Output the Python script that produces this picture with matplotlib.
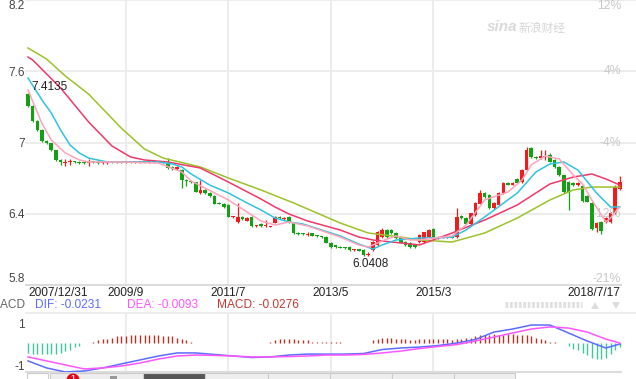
import matplotlib
matplotlib.use("Agg")
import matplotlib.pyplot as plt
from matplotlib.patches import Rectangle, Circle, Polygon
import numpy as np

plt.rcParams["font.family"] = ["Liberation Sans", "Noto Sans CJK SC", "DejaVu Sans"]

# monthly candles 2007/12 .. 2018/7 (index 0..127)
opens = [7.410, 7.307, 7.181, 7.105, 7.013, 6.996, 6.937, 6.853, 6.830, 6.834,
         6.840, 6.834, 6.832, 6.826, 6.838, 6.834, 6.828, 6.830, 6.836, 6.834,
         6.836, 6.834, 6.836, 6.834, 6.834, 6.836, 6.834, 6.836, 6.834, 6.832,
         6.827, 6.794, 6.777, 6.768, 6.684, 6.676, 6.667, 6.575, 6.600, 6.575,
         6.549, 6.491, 6.482, 6.474, 6.373, 6.331, 6.373, 6.339, 6.373, 6.295,
         6.314, 6.297, 6.288, 6.322, 6.373, 6.356, 6.373, 6.322, 6.238, 6.238,
         6.221, 6.238, 6.213, 6.210, 6.204, 6.154, 6.137, 6.120, 6.112, 6.120,
         6.095, 6.098, 6.095, 6.053, 6.095, 6.137, 6.204, 6.263, 6.263, 6.238,
         6.196, 6.162, 6.154, 6.137, 6.162, 6.162, 6.204, 6.272, 6.196, 6.196,
         6.200, 6.204, 6.204, 6.381, 6.364, 6.314, 6.389, 6.482, 6.575, 6.558,
         6.448, 6.474, 6.575, 6.659, 6.645, 6.693, 6.667, 6.768, 6.954, 6.878,
         6.869, 6.878, 6.895, 6.853, 6.794, 6.726, 6.667, 6.659, 6.642, 6.634,
         6.550, 6.491, 6.280, 6.331, 6.331, 6.331, 6.406, 6.608]
closes = [7.307, 7.181, 7.105, 7.013, 6.996, 6.937, 6.853, 6.836, 6.840, 6.842,
          6.834, 6.830, 6.828, 6.838, 6.832, 6.828, 6.834, 6.836, 6.834, 6.836,
          6.834, 6.836, 6.834, 6.834, 6.836, 6.834, 6.836, 6.834, 6.832, 6.830,
          6.785, 6.777, 6.790, 6.684, 6.676, 6.667, 6.583, 6.600, 6.575, 6.549,
          6.482, 6.482, 6.457, 6.373, 6.381, 6.373, 6.356, 6.364, 6.297, 6.300,
          6.297, 6.300, 6.297, 6.373, 6.364, 6.364, 6.322, 6.238, 6.232, 6.229,
          6.229, 6.213, 6.210, 6.204, 6.154, 6.120, 6.120, 6.112, 6.108, 6.095,
          6.098, 6.090, 6.053, 6.065, 6.162, 6.246, 6.263, 6.204, 6.238, 6.196,
          6.154, 6.137, 6.120, 6.120, 6.221, 6.246, 6.263, 6.204, 6.204, 6.204,
          6.204, 6.196, 6.373, 6.364, 6.314, 6.406, 6.491, 6.575, 6.541, 6.448,
          6.491, 6.575, 6.659, 6.642, 6.659, 6.659, 6.768, 6.937, 6.878, 6.870,
          6.886, 6.886, 6.840, 6.794, 6.726, 6.583, 6.583, 6.642, 6.659, 6.508,
          6.500, 6.272, 6.322, 6.255, 6.364, 6.406, 6.625, 6.667]
highs = [7.4135, 7.315, 7.190, 7.110, 7.020, 7.000, 6.940, 6.860, 6.862, 6.860,
         6.848, 6.842, 6.840, 6.862, 6.845, 6.850, 6.840, 6.842, 6.840, 6.842,
         6.840, 6.840, 6.840, 6.838, 6.840, 6.840, 6.840, 6.840, 6.840, 6.840,
         6.870, 6.800, 6.800, 6.780, 6.690, 6.680, 6.670, 6.684, 6.605, 6.580,
         6.555, 6.495, 6.490, 6.480, 6.385, 6.491, 6.380, 6.372, 6.380, 6.305,
         6.320, 6.347, 6.300, 6.380, 6.378, 6.370, 6.378, 6.330, 6.245, 6.242,
         6.250, 6.242, 6.218, 6.215, 6.210, 6.158, 6.140, 6.125, 6.118, 6.125,
         6.105, 6.100, 6.100, 6.080, 6.170, 6.255, 6.280, 6.270, 6.268, 6.245,
         6.200, 6.168, 6.160, 6.142, 6.230, 6.250, 6.270, 6.280, 6.212, 6.210,
         6.210, 6.212, 6.448, 6.390, 6.370, 6.410, 6.500, 6.600, 6.585, 6.565,
         6.500, 6.585, 6.670, 6.665, 6.668, 6.700, 6.775, 6.962, 6.962, 6.890,
         6.937, 6.937, 6.910, 6.860, 6.800, 6.730, 6.675, 6.665, 6.665, 6.640,
         6.560, 6.500, 6.331, 6.340, 6.370, 6.415, 6.640, 6.718]
lows = [7.300, 7.175, 7.098, 7.005, 6.990, 6.930, 6.845, 6.811, 6.805, 6.808,
        6.825, 6.822, 6.822, 6.803, 6.825, 6.815, 6.822, 6.820, 6.828, 6.830,
        6.830, 6.830, 6.830, 6.830, 6.830, 6.830, 6.830, 6.830, 6.828, 6.826,
        6.780, 6.770, 6.770, 6.617, 6.630, 6.660, 6.580, 6.570, 6.570, 6.545,
        6.478, 6.478, 6.452, 6.370, 6.368, 6.325, 6.350, 6.335, 6.292, 6.290,
        6.290, 6.290, 6.285, 6.318, 6.360, 6.350, 6.318, 6.232, 6.225, 6.225,
        6.215, 6.210, 6.205, 6.200, 6.150, 6.115, 6.115, 6.108, 6.104, 6.090,
        6.090, 6.085, 6.048, 6.0408, 6.090, 6.130, 6.200, 6.200, 6.232, 6.190,
        6.150, 6.132, 6.115, 6.115, 6.155, 6.155, 6.200, 6.200, 6.190, 6.192,
        6.196, 6.192, 6.200, 6.358, 6.310, 6.308, 6.385, 6.478, 6.535, 6.440,
        6.440, 6.470, 6.570, 6.638, 6.640, 6.655, 6.660, 6.760, 6.870, 6.860,
        6.860, 6.853, 6.835, 6.785, 6.720, 6.578, 6.432, 6.630, 6.630, 6.500,
        6.495, 6.262, 6.250, 6.229, 6.325, 6.325, 6.400, 6.600]

# moving averages, read at these months
pink_months = [0, 3, 5, 8, 11, 13, 20, 28, 33, 35, 43, 50, 53, 56, 60, 67, 71,
               73, 77, 79, 82, 84, 91, 94, 98, 103, 106, 108, 111, 114, 117,
               119, 121, 124, 125, 127]
ma_pink = [7.442, 7.160, 7.021, 6.912, 6.853, 6.836, 6.836, 6.827, 6.752, 6.676,
           6.516, 6.339, 6.305, 6.331, 6.297, 6.204, 6.137, 6.120, 6.187, 6.213,
           6.179, 6.179, 6.213, 6.305, 6.516, 6.583, 6.684, 6.811, 6.886, 6.861,
           6.726, 6.651, 6.516, 6.331, 6.364, 6.457]
cyan_months = [0, 3, 5, 7, 9, 11, 13, 17, 28, 31, 33, 35, 39, 43, 47, 50, 53,
               56, 59, 63, 67, 71, 74, 76, 79, 84, 88, 91, 94, 98, 105, 109,
               112, 115, 118, 122, 125, 127]
ma_cyan = [7.543, 7.358, 7.248, 7.105, 6.979, 6.912, 6.869, 6.836, 6.836, 6.819,
           6.794, 6.735, 6.642, 6.575, 6.491, 6.432, 6.364, 6.331, 6.314, 6.263,
           6.213, 6.145, 6.103, 6.137, 6.179, 6.196, 6.196, 6.204, 6.263, 6.373,
           6.575, 6.752, 6.819, 6.836, 6.768, 6.575, 6.457, 6.457]
red_months = [0, 1, 7, 13, 18, 22, 25, 30, 37, 43, 50, 53, 56, 60, 67, 71, 74,
              80, 84, 91, 98, 105, 112, 117, 121, 124, 127]
ma_red = [7.720, 7.695, 7.459, 7.173, 6.971, 6.878, 6.853, 6.836, 6.785, 6.667,
          6.524, 6.457, 6.398, 6.339, 6.263, 6.204, 6.179, 6.154, 6.137, 6.238,
          6.347, 6.474, 6.651, 6.709, 6.735, 6.693, 6.642]
green_months = [0, 4, 8, 13, 20, 25, 29, 37, 43, 50, 57, 67, 73, 80, 84, 91, 98,
                105, 112, 117, 121, 127]
ma_green = [7.796, 7.703, 7.560, 7.408, 7.122, 6.945, 6.869, 6.794, 6.701, 6.600,
            6.491, 6.322, 6.238, 6.204, 6.179, 6.162, 6.238, 6.364, 6.516, 6.600,
            6.625, 6.625]

# MACD, lines read every 4 months, histogram every month
macd_months = list(range(0, 125, 4)) + [127]
dif = [-0.97, -1.34, -1.55, -1.50, -1.34, -1.13, -0.92, -0.71, -0.55, -0.55,
       -0.63, -0.71, -0.79, -0.76, -0.66, -0.61, -0.61, -0.61, -0.58, -0.37,
       -0.29, -0.24, -0.16, -0.03, 0.16, 0.55, 0.71, 0.92, 0.92, 0.50,
       0.08, -0.29, -0.08]
dea = [-0.76, -0.97, -1.18, -1.39, -1.34, -1.24, -1.08, -0.87, -0.71, -0.66,
       -0.68, -0.71, -0.76, -0.76, -0.74, -0.71, -0.66, -0.66, -0.63, -0.55,
       -0.45, -0.32, -0.21, -0.11, 0.08, 0.29, 0.50, 0.71, 0.82, 0.76,
       0.55, 0.18, -0.03]
hist = [-0.53, -0.58, -0.63, -0.63, -0.63, -0.63, -0.58, -0.53, -0.47, -0.37,
        -0.26, -0.16, -0.05, 0.0,
        0.05, 0.11, 0.16, 0.21, 0.26, 0.32, 0.32, 0.32, 0.37, 0.37, 0.37, 0.37,
        0.37, 0.37, 0.37, 0.32, 0.32, 0.32, 0.26, 0.16, 0.11, 0.05,
        -0.03, -0.05, -0.05, -0.05, -0.05, -0.05, -0.05, -0.05, -0.05, -0.05,
        -0.05, -0.05, -0.05, -0.05, -0.05, -0.03,
        0.05, 0.11, 0.16, 0.16, 0.16, 0.16, 0.11, 0.11, 0.11, 0.05, 0.05, 0.05,
        0.05, 0.05,
        0.03, 0.02, 0.0, 0.0, 0.0, 0.0, 0.0, 0.0,
        0.11, 0.21, 0.26, 0.26, 0.26, 0.21, 0.16, 0.16, 0.11, 0.11, 0.16, 0.16,
        0.21, 0.21, 0.16, 0.16, 0.16, 0.11, 0.16, 0.21, 0.26, 0.26, 0.32, 0.37,
        0.42, 0.42, 0.47, 0.42, 0.42, 0.47, 0.47, 0.42, 0.42, 0.37, 0.32, 0.26,
        0.16,
        0.11, 0.05, 0.03, 0.0,
        -0.05, -0.16, -0.32, -0.42, -0.53, -0.68, -0.84, -0.89, -0.89, -0.79,
        -0.58, -0.42, -0.26]

date_ticks = [0, 21, 43, 65, 87, 127]
date_labels = ["2007/12/31", "2009/9", "2011/7", "2013/5", "2015/3", "2018/7/17"]
price_ticks = [5.8, 6.4, 7.0, 7.6, 8.2]
price_labels = ["5.8", "6.4", "7", "7.6", "8.2"]
pct_labels = ["-21%", "-12%", "-4%", "4%", "12%"]

UP, DOWN = "#f21a1a", "#14a014"
GRID = "#ebebeb"

W, H = 636, 379
fig = plt.figure(figsize=(W / 100, H / 100), dpi=100)


def box(l, t, r, b):
    return [l / W, 1 - b / H, (r - l) / W, (b - t) / H]


# overlay in pixel coords for decorations
ov = fig.add_axes([0, 0, 1, 1])
ov.set_xlim(0, W)
ov.set_ylim(H, 0)
ov.axis("off")

step = 4.66  # px per month
xlim = (-2 / step, (W - 28) / step)
edge = (621 - 26) / (W - 26)

# ---- main price panel
ax = fig.add_axes(box(26, 0, W, 285))
ax.set_facecolor("none")
ax.set_xlim(*xlim)
ax.set_ylim(5.8, 8.2)
for s in ax.spines.values():
    s.set_visible(False)
for v in price_ticks[1:]:
    ax.axhline(v, color=GRID, lw=1.3, zorder=0, clip_on=False)
for m in date_ticks[1:-1]:
    ax.axvline(m, color=GRID, lw=1.3, zorder=0)
ax.axhline(5.8, xmax=edge, color="#dcdcdc", lw=1.5, clip_on=False)

idx = np.arange(len(closes))
o = np.array(opens)
c = np.array(closes)
col = np.where(c >= o, UP, DOWN)
ax.vlines(idx, lows, highs, colors=col, lw=0.9, zorder=2)
ax.bar(idx, np.maximum(np.abs(c - o), 0.009), bottom=np.minimum(o, c),
       width=0.78, color=col, linewidth=0, zorder=2)

ax.plot(green_months, ma_green, color="#9cc22a", lw=1.1, zorder=3)
ax.plot(red_months, ma_red, color="#f0386a", lw=1.1, zorder=3)
ax.plot(cyan_months, ma_cyan, color="#2ec3e0", lw=1.1, zorder=3)
ax.plot(pink_months, ma_pink, color="#ffa3bb", lw=1.1, zorder=3)

ax.set_xticks(date_ticks)
ax.set_xticklabels(date_labels)
ax.tick_params(axis="x", length=0, pad=1.5, labelsize=8.6, labelcolor="#222222")
xl = ax.get_xticklabels()
xl[0].set_ha("left")
xl[-1].set_ha("right")
ax.set_yticks(price_ticks)
ax.set_yticklabels(price_labels)
ax.tick_params(axis="y", length=0, pad=1, labelsize=8.5, labelcolor="#444444")
yl = ax.get_yticklabels()
yl[0].set_va("bottom")
yl[-1].set_va("top")

for k, (v, s) in enumerate(zip(price_ticks, pct_labels)):
    va = "bottom" if k == 0 else ("top" if k == len(pct_labels) - 1 else "center")
    ax.text(edge, v, s, transform=ax.get_yaxis_transform(), ha="right", va=va,
            color="#c8c8c8", fontsize=8.8)

hi_i = int(np.argmax(highs))
lo_i = int(np.argmin(lows))
ax.annotate(f"{highs[hi_i]:.4f}", (hi_i, highs[hi_i]), xytext=(2.5, 0),
            textcoords="offset points", ha="left", va="bottom",
            fontsize=8.5, color="#222222")
ax.annotate(f"{lows[lo_i]:.4f}", (lo_i, lows[lo_i]), xytext=(2, -1),
            textcoords="offset points", ha="center", va="top",
            fontsize=8.5, color="#222222")

# watermark
ov.text(502, 27, "sina", fontsize=11, style="italic", weight="bold",
        color="#d9d9d9", ha="center", va="center")
ov.text(542, 28, "新浪财经", fontsize=8.5, color="#d6d6d6", ha="center",
        va="center", family=["Noto Sans CJK SC"])

# ---- MACD legend row
ov.text(25, 305, "MACD", ha="right", va="center", color="#666666", fontsize=8.6)
ov.text(35, 305, "DIF: -0.0231", ha="left", va="center", color="#5b6cff", fontsize=8.6)
ov.text(127, 305, "DEA: -0.0093", ha="left", va="center", color="#ff55ff", fontsize=8.6)
ov.text(217, 305, "MACD: -0.0276", ha="left", va="center", color="#c03a30", fontsize=8.6)

# ---- MACD panel
mx = fig.add_axes(box(26, 313, W, 372))
mx.set_facecolor("none")
mx.set_xlim(*xlim)
mx.set_ylim(-1.553, 1.553)
for s in mx.spines.values():
    s.set_visible(False)
mx.set_xticks([])
mx.set_yticks([-1, 1])
mx.set_yticklabels(["-1", "1"])
mx.tick_params(axis="y", length=0, pad=1, labelsize=8.5, labelcolor="#444444")
mx.get_yticklabels()[0].set_va("top")
mx.axhline(1.553, color=GRID, lw=1.3, clip_on=False, zorder=0)
mx.axhline(-1.553, xmax=edge, color="#dcdcdc", lw=1.5, clip_on=False)
for m in date_ticks[1:-1]:
    mx.axvline(m, color=GRID, lw=1.3, zorder=0)
h = np.array(hist)
mx.vlines(np.arange(len(h)), 0, h, colors=np.where(h >= 0, "#b83224", "#3cc99a"),
          lw=1.0)
mx.plot(macd_months, dif, color="#5b6cff", lw=1.1)
mx.plot(macd_months, dea, color="#ff55ff", lw=1.1)

# ---- range selector strip and handles
ov.add_patch(Rectangle((27, 373), 21, 8, fc="white", ec="#cccccc", lw=0.8))
cuts = [50, 143, 205, 268, 330, 392, 454, 515]
for a, b in zip(cuts[:-1], cuts[1:]):
    fc = "#555555" if a == 143 else "#eeeeee"
    ov.add_patch(Rectangle((a, 373), b - a, 8, fc=fc, ec="#cccccc", lw=0.8))
ov.add_patch(Rectangle((110, 376), 7, 4, fc="#999999", ec="none"))
ov.add_patch(Circle((73, 380), 6.5, fc="#e60012", ec="none"))
ov.text(73, 378.5, "1", color="white", fontsize=6, weight="bold",
        ha="center", va="center")
for yy in (302.5, 306):
    ov.plot([505, 582], [yy, yy], color="#dedede", lw=2, dashes=(1.0, 0.6))
ov.add_patch(Polygon([[591, 309], [599, 309], [595, 302]], fc="#dddddd", ec="none"))
ov.add_patch(Polygon([[612, 302], [620, 302], [616, 309]], fc="#dddddd", ec="none"))

fig.savefig("out.png", dpi=100)
